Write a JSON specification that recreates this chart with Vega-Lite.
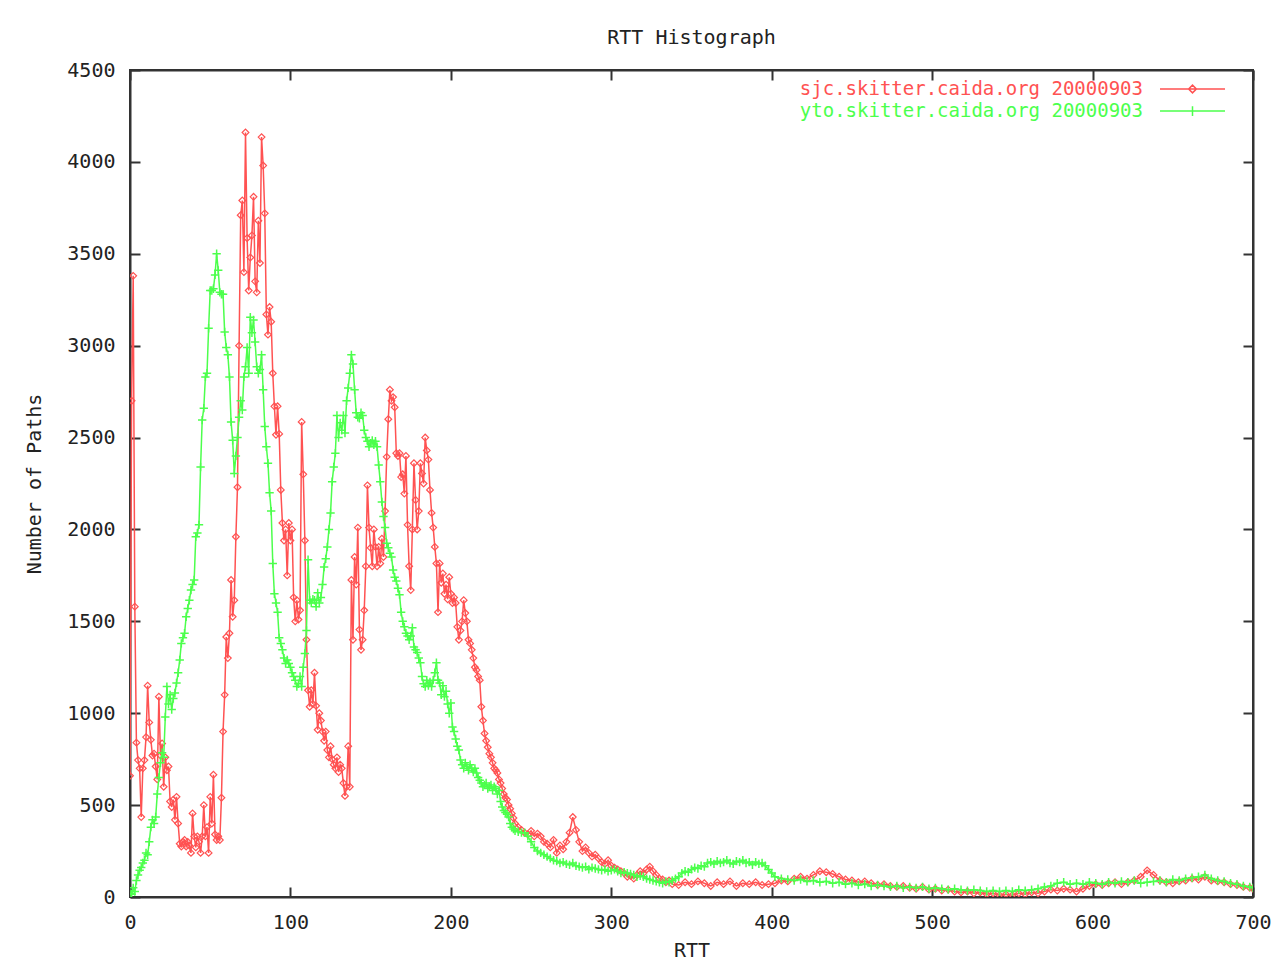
{
  "$schema": "https://vega.github.io/schema/vega-lite/v6.json",
  "width": 1123,
  "height": 827,
  "autosize": {"type": "none"},
  "padding": {"left": 130, "top": 70, "right": 21, "bottom": 64},
  "background": "#ffffff",
  "title": {"text": "RTT Histograph", "font": "DejaVu Sans Mono", "fontSize": 20, "fontWeight": "normal", "color": "#222222", "anchor": "middle", "offset": 8},
  "config": {
    "view": {"stroke": "#333333", "strokeWidth": 2},
    "axis": {
      "labelFont": "DejaVu Sans Mono", "labelFontSize": 20, "labelColor": "#222222",
      "titleFont": "DejaVu Sans Mono", "titleFontSize": 20, "titleColor": "#222222", "titleFontWeight": "normal",
      "domainColor": "#333333", "domainWidth": 2, "tickColor": "#333333", "tickWidth": 2, "tickSize": -10,
      "grid": false, "labelPadding": 25
    }
  },
  "datasets": {
    "sjc": [
      {"rtt":0,"paths":660},{"rtt":1,"paths":2700},{"rtt":2,"paths":3380},{"rtt":3,"paths":1580},{"rtt":4,"paths":840},{"rtt":5,"paths":745},{"rtt":6,"paths":700},{"rtt":7,"paths":435},{"rtt":8,"paths":700},{"rtt":9,"paths":745},
      {"rtt":10,"paths":870},{"rtt":11,"paths":1150},{"rtt":12,"paths":950},{"rtt":13,"paths":855},{"rtt":14,"paths":770},{"rtt":15,"paths":780},{"rtt":16,"paths":710},{"rtt":17,"paths":640},{"rtt":18,"paths":1090},{"rtt":19,"paths":770},
      {"rtt":20,"paths":835},{"rtt":21,"paths":600},{"rtt":22,"paths":760},{"rtt":23,"paths":690},{"rtt":24,"paths":710},{"rtt":25,"paths":520},{"rtt":26,"paths":490},{"rtt":27,"paths":530},{"rtt":28,"paths":420},{"rtt":29,"paths":545},
      {"rtt":30,"paths":400},{"rtt":31,"paths":290},{"rtt":32,"paths":275},{"rtt":33,"paths":300},{"rtt":34,"paths":310},{"rtt":35,"paths":275},{"rtt":36,"paths":300},{"rtt":37,"paths":280},{"rtt":38,"paths":240},{"rtt":39,"paths":455},
      {"rtt":40,"paths":330},{"rtt":41,"paths":270},{"rtt":42,"paths":330},{"rtt":43,"paths":300},{"rtt":44,"paths":240},{"rtt":45,"paths":330},{"rtt":46,"paths":500},{"rtt":47,"paths":330},{"rtt":48,"paths":380},{"rtt":49,"paths":240},
      {"rtt":50,"paths":545},{"rtt":51,"paths":400},{"rtt":52,"paths":665},{"rtt":53,"paths":340},{"rtt":54,"paths":310},{"rtt":55,"paths":330},{"rtt":56,"paths":310},{"rtt":57,"paths":540},{"rtt":58,"paths":900},{"rtt":59,"paths":1100},
      {"rtt":60,"paths":1415},{"rtt":61,"paths":1300},{"rtt":62,"paths":1435},{"rtt":63,"paths":1725},{"rtt":64,"paths":1525},{"rtt":65,"paths":1615},{"rtt":66,"paths":1960},{"rtt":67,"paths":2230},{"rtt":68,"paths":3000},{"rtt":69,"paths":3710},
      {"rtt":70,"paths":3790},{"rtt":71,"paths":3400},{"rtt":72,"paths":4160},{"rtt":73,"paths":3585},{"rtt":74,"paths":3300},{"rtt":75,"paths":3480},{"rtt":76,"paths":3600},{"rtt":77,"paths":3810},{"rtt":78,"paths":3350},{"rtt":79,"paths":3290},
      {"rtt":80,"paths":3680},{"rtt":81,"paths":3450},{"rtt":82,"paths":4135},{"rtt":83,"paths":3980},{"rtt":84,"paths":3720},{"rtt":85,"paths":3170},{"rtt":86,"paths":3060},{"rtt":87,"paths":3210},{"rtt":88,"paths":3130},{"rtt":89,"paths":2850},
      {"rtt":90,"paths":2670},{"rtt":91,"paths":2515},{"rtt":92,"paths":2670},{"rtt":93,"paths":2520},{"rtt":94,"paths":2215},{"rtt":95,"paths":2035},{"rtt":96,"paths":1940},{"rtt":97,"paths":2000},{"rtt":98,"paths":1750},{"rtt":99,"paths":2035},
      {"rtt":100,"paths":1940},{"rtt":101,"paths":2000},{"rtt":102,"paths":1630},{"rtt":103,"paths":1500},{"rtt":104,"paths":1615},{"rtt":105,"paths":1510},{"rtt":106,"paths":1560},{"rtt":107,"paths":2585},{"rtt":108,"paths":2300},{"rtt":109,"paths":1940},
      {"rtt":110,"paths":1400},{"rtt":111,"paths":1125},{"rtt":112,"paths":1035},{"rtt":113,"paths":1125},{"rtt":114,"paths":1050},{"rtt":115,"paths":1220},{"rtt":116,"paths":1040},{"rtt":117,"paths":910},{"rtt":118,"paths":1000},{"rtt":119,"paths":960},
      {"rtt":120,"paths":900},{"rtt":121,"paths":850},{"rtt":122,"paths":900},{"rtt":123,"paths":800},{"rtt":124,"paths":760},{"rtt":125,"paths":820},{"rtt":126,"paths":750},{"rtt":127,"paths":720},{"rtt":128,"paths":700},{"rtt":129,"paths":760},
      {"rtt":130,"paths":680},{"rtt":131,"paths":720},{"rtt":132,"paths":700},{"rtt":133,"paths":620},{"rtt":134,"paths":550},{"rtt":135,"paths":600},{"rtt":136,"paths":820},{"rtt":137,"paths":600},{"rtt":138,"paths":1725},{"rtt":139,"paths":1400},
      {"rtt":140,"paths":1850},{"rtt":141,"paths":1700},{"rtt":142,"paths":2010},{"rtt":143,"paths":1455},{"rtt":144,"paths":1345},{"rtt":145,"paths":1400},{"rtt":146,"paths":1560},{"rtt":147,"paths":1800},{"rtt":148,"paths":2240},{"rtt":149,"paths":2010},
      {"rtt":150,"paths":1900},{"rtt":151,"paths":1800},{"rtt":152,"paths":2000},{"rtt":153,"paths":1905},{"rtt":154,"paths":1800},{"rtt":155,"paths":1905},{"rtt":156,"paths":1815},{"rtt":157,"paths":1950},{"rtt":158,"paths":1850},{"rtt":159,"paths":2100},
      {"rtt":160,"paths":2395},{"rtt":161,"paths":2600},{"rtt":162,"paths":2760},{"rtt":163,"paths":2700},{"rtt":164,"paths":2720},{"rtt":165,"paths":2665},{"rtt":166,"paths":2415},{"rtt":167,"paths":2400},{"rtt":168,"paths":2415},{"rtt":169,"paths":2285},
      {"rtt":170,"paths":2300},{"rtt":171,"paths":2195},{"rtt":172,"paths":2400},{"rtt":173,"paths":2025},{"rtt":174,"paths":1800},{"rtt":175,"paths":1670},{"rtt":176,"paths":2000},{"rtt":177,"paths":2360},{"rtt":178,"paths":2160},{"rtt":179,"paths":2000},
      {"rtt":180,"paths":2100},{"rtt":181,"paths":2360},{"rtt":182,"paths":2305},{"rtt":183,"paths":2250},{"rtt":184,"paths":2500},{"rtt":185,"paths":2430},{"rtt":186,"paths":2380},{"rtt":187,"paths":2215},{"rtt":188,"paths":2090},{"rtt":189,"paths":2010},
      {"rtt":190,"paths":1905},{"rtt":191,"paths":1815},{"rtt":192,"paths":1550},{"rtt":193,"paths":1815},{"rtt":194,"paths":1710},{"rtt":195,"paths":1760},{"rtt":196,"paths":1650},{"rtt":197,"paths":1700},{"rtt":198,"paths":1620},{"rtt":199,"paths":1740},
      {"rtt":200,"paths":1650},{"rtt":201,"paths":1600},{"rtt":202,"paths":1630},{"rtt":203,"paths":1600},{"rtt":204,"paths":1470},{"rtt":205,"paths":1400},{"rtt":206,"paths":1450},{"rtt":207,"paths":1500},{"rtt":208,"paths":1615},{"rtt":209,"paths":1545},
      {"rtt":210,"paths":1500},{"rtt":211,"paths":1400},{"rtt":212,"paths":1380},{"rtt":213,"paths":1345},{"rtt":214,"paths":1300},{"rtt":215,"paths":1250},{"rtt":216,"paths":1235},{"rtt":217,"paths":1200},{"rtt":218,"paths":1180},{"rtt":219,"paths":1035},
      {"rtt":220,"paths":960},{"rtt":221,"paths":890},{"rtt":222,"paths":850},{"rtt":223,"paths":815},{"rtt":224,"paths":780},{"rtt":225,"paths":760},{"rtt":226,"paths":730},{"rtt":227,"paths":700},{"rtt":228,"paths":690},{"rtt":229,"paths":675},
      {"rtt":230,"paths":640},{"rtt":231,"paths":620},{"rtt":232,"paths":590},{"rtt":233,"paths":560},{"rtt":234,"paths":540},{"rtt":235,"paths":530},{"rtt":236,"paths":500},{"rtt":237,"paths":480},{"rtt":238,"paths":455},{"rtt":239,"paths":430},
      {"rtt":240,"paths":400},{"rtt":242,"paths":380},{"rtt":244,"paths":365},{"rtt":246,"paths":350},{"rtt":248,"paths":340},{"rtt":250,"paths":360},{"rtt":252,"paths":330},{"rtt":254,"paths":345},{"rtt":256,"paths":330},{"rtt":258,"paths":300},
      {"rtt":260,"paths":290},{"rtt":262,"paths":270},{"rtt":264,"paths":310},{"rtt":266,"paths":240},{"rtt":268,"paths":280},{"rtt":270,"paths":260},{"rtt":272,"paths":300},{"rtt":274,"paths":350},{"rtt":276,"paths":435},{"rtt":278,"paths":365},
      {"rtt":280,"paths":300},{"rtt":282,"paths":250},{"rtt":284,"paths":270},{"rtt":286,"paths":240},{"rtt":288,"paths":220},{"rtt":290,"paths":230},{"rtt":292,"paths":210},{"rtt":294,"paths":190},{"rtt":296,"paths":180},{"rtt":298,"paths":200},
      {"rtt":300,"paths":170},{"rtt":302,"paths":160},{"rtt":304,"paths":150},{"rtt":306,"paths":140},{"rtt":308,"paths":130},{"rtt":310,"paths":110},{"rtt":312,"paths":115},{"rtt":314,"paths":100},{"rtt":316,"paths":120},{"rtt":318,"paths":140},
      {"rtt":320,"paths":130},{"rtt":322,"paths":150},{"rtt":324,"paths":165},{"rtt":326,"paths":140},{"rtt":328,"paths":120},{"rtt":330,"paths":100},{"rtt":332,"paths":95},{"rtt":334,"paths":80},{"rtt":336,"paths":90},{"rtt":338,"paths":70},
      {"rtt":342,"paths":65},{"rtt":346,"paths":80},{"rtt":350,"paths":70},{"rtt":354,"paths":85},{"rtt":358,"paths":75},{"rtt":362,"paths":60},{"rtt":366,"paths":80},{"rtt":370,"paths":70},{"rtt":374,"paths":85},{"rtt":378,"paths":60},
      {"rtt":382,"paths":75},{"rtt":386,"paths":70},{"rtt":390,"paths":80},{"rtt":394,"paths":65},{"rtt":398,"paths":70},{"rtt":402,"paths":75},{"rtt":406,"paths":90},{"rtt":410,"paths":85},{"rtt":414,"paths":100},{"rtt":418,"paths":110},
      {"rtt":422,"paths":100},{"rtt":426,"paths":120},{"rtt":430,"paths":140},{"rtt":434,"paths":135},{"rtt":438,"paths":125},{"rtt":442,"paths":110},{"rtt":446,"paths":95},{"rtt":450,"paths":90},{"rtt":454,"paths":80},{"rtt":458,"paths":85},
      {"rtt":462,"paths":75},{"rtt":466,"paths":65},{"rtt":470,"paths":70},{"rtt":474,"paths":60},{"rtt":478,"paths":55},{"rtt":482,"paths":60},{"rtt":486,"paths":50},{"rtt":490,"paths":45},{"rtt":494,"paths":55},{"rtt":498,"paths":40},
      {"rtt":502,"paths":45},{"rtt":506,"paths":35},{"rtt":510,"paths":40},{"rtt":514,"paths":30},{"rtt":518,"paths":25},{"rtt":522,"paths":30},{"rtt":526,"paths":20},{"rtt":530,"paths":25},{"rtt":534,"paths":15},{"rtt":538,"paths":20},
      {"rtt":542,"paths":10},{"rtt":546,"paths":15},{"rtt":550,"paths":10},{"rtt":554,"paths":20},{"rtt":558,"paths":15},{"rtt":562,"paths":25},{"rtt":566,"paths":20},{"rtt":570,"paths":30},{"rtt":574,"paths":40},{"rtt":578,"paths":35},
      {"rtt":582,"paths":45},{"rtt":586,"paths":40},{"rtt":590,"paths":30},{"rtt":594,"paths":45},{"rtt":598,"paths":60},{"rtt":602,"paths":70},{"rtt":606,"paths":65},{"rtt":610,"paths":75},{"rtt":614,"paths":80},{"rtt":618,"paths":70},
      {"rtt":622,"paths":80},{"rtt":626,"paths":90},{"rtt":630,"paths":110},{"rtt":634,"paths":145},{"rtt":638,"paths":120},{"rtt":642,"paths":90},{"rtt":646,"paths":80},{"rtt":650,"paths":75},{"rtt":654,"paths":85},{"rtt":658,"paths":90},
      {"rtt":662,"paths":100},{"rtt":666,"paths":95},{"rtt":670,"paths":110},{"rtt":674,"paths":90},{"rtt":678,"paths":85},{"rtt":682,"paths":80},{"rtt":686,"paths":70},{"rtt":690,"paths":65},{"rtt":694,"paths":55},{"rtt":698,"paths":50},{"rtt":700,"paths":45}
    ],
    "yto": [
      {"rtt":0,"paths":20},{"rtt":1,"paths":15},{"rtt":2,"paths":50},{"rtt":3,"paths":30},{"rtt":4,"paths":90},{"rtt":5,"paths":120},{"rtt":6,"paths":145},{"rtt":7,"paths":160},{"rtt":8,"paths":185},{"rtt":9,"paths":200},
      {"rtt":10,"paths":240},{"rtt":11,"paths":230},{"rtt":12,"paths":300},{"rtt":13,"paths":380},{"rtt":14,"paths":420},{"rtt":15,"paths":400},{"rtt":16,"paths":435},{"rtt":17,"paths":560},{"rtt":18,"paths":650},{"rtt":19,"paths":730},
      {"rtt":20,"paths":785},{"rtt":21,"paths":760},{"rtt":22,"paths":980},{"rtt":23,"paths":1145},{"rtt":24,"paths":1050},{"rtt":25,"paths":1100},{"rtt":26,"paths":1020},{"rtt":27,"paths":1080},{"rtt":28,"paths":1110},{"rtt":29,"paths":1165},
      {"rtt":30,"paths":1220},{"rtt":31,"paths":1290},{"rtt":32,"paths":1380},{"rtt":33,"paths":1410},{"rtt":34,"paths":1435},{"rtt":35,"paths":1525},{"rtt":36,"paths":1570},{"rtt":37,"paths":1615},{"rtt":38,"paths":1670},{"rtt":39,"paths":1700},
      {"rtt":40,"paths":1725},{"rtt":41,"paths":1960},{"rtt":42,"paths":1980},{"rtt":43,"paths":2025},{"rtt":44,"paths":2340},{"rtt":45,"paths":2595},{"rtt":46,"paths":2660},{"rtt":47,"paths":2830},{"rtt":48,"paths":2850},{"rtt":49,"paths":3095},
      {"rtt":50,"paths":3300},{"rtt":51,"paths":3300},{"rtt":52,"paths":3310},{"rtt":53,"paths":3385},{"rtt":54,"paths":3500},{"rtt":55,"paths":3410},{"rtt":56,"paths":3290},{"rtt":57,"paths":3280},{"rtt":58,"paths":3280},{"rtt":59,"paths":3075},
      {"rtt":60,"paths":2990},{"rtt":61,"paths":2950},{"rtt":62,"paths":2830},{"rtt":63,"paths":2585},{"rtt":64,"paths":2485},{"rtt":65,"paths":2305},{"rtt":66,"paths":2400},{"rtt":67,"paths":2500},{"rtt":68,"paths":2610},{"rtt":69,"paths":2700},
      {"rtt":70,"paths":2650},{"rtt":71,"paths":2830},{"rtt":72,"paths":2885},{"rtt":73,"paths":2990},{"rtt":74,"paths":2850},{"rtt":75,"paths":3155},{"rtt":76,"paths":3070},{"rtt":77,"paths":3140},{"rtt":78,"paths":3020},{"rtt":79,"paths":2885},
      {"rtt":80,"paths":2850},{"rtt":81,"paths":2870},{"rtt":82,"paths":2950},{"rtt":83,"paths":2760},{"rtt":84,"paths":2560},{"rtt":85,"paths":2450},{"rtt":86,"paths":2360},{"rtt":87,"paths":2200},{"rtt":88,"paths":2100},{"rtt":89,"paths":1815},
      {"rtt":90,"paths":1650},{"rtt":91,"paths":1600},{"rtt":92,"paths":1550},{"rtt":93,"paths":1410},{"rtt":94,"paths":1380},{"rtt":95,"paths":1345},{"rtt":96,"paths":1300},{"rtt":97,"paths":1270},{"rtt":98,"paths":1290},{"rtt":99,"paths":1270},
      {"rtt":100,"paths":1250},{"rtt":101,"paths":1220},{"rtt":102,"paths":1200},{"rtt":103,"paths":1180},{"rtt":104,"paths":1145},{"rtt":105,"paths":1160},{"rtt":106,"paths":1200},{"rtt":107,"paths":1145},{"rtt":108,"paths":1250},{"rtt":109,"paths":1325},
      {"rtt":110,"paths":1450},{"rtt":111,"paths":1835},{"rtt":112,"paths":1615},{"rtt":113,"paths":1600},{"rtt":114,"paths":1620},{"rtt":115,"paths":1615},{"rtt":116,"paths":1580},{"rtt":117,"paths":1655},{"rtt":118,"paths":1600},{"rtt":119,"paths":1630},
      {"rtt":120,"paths":1700},{"rtt":121,"paths":1795},{"rtt":122,"paths":1840},{"rtt":123,"paths":1905},{"rtt":124,"paths":2000},{"rtt":125,"paths":2090},{"rtt":126,"paths":2260},{"rtt":127,"paths":2340},{"rtt":128,"paths":2415},{"rtt":129,"paths":2620},
      {"rtt":130,"paths":2500},{"rtt":131,"paths":2580},{"rtt":132,"paths":2540},{"rtt":133,"paths":2620},{"rtt":134,"paths":2525},{"rtt":135,"paths":2700},{"rtt":136,"paths":2770},{"rtt":137,"paths":2850},{"rtt":138,"paths":2950},{"rtt":139,"paths":2900},
      {"rtt":140,"paths":2760},{"rtt":141,"paths":2635},{"rtt":142,"paths":2610},{"rtt":143,"paths":2605},{"rtt":144,"paths":2635},{"rtt":145,"paths":2620},{"rtt":146,"paths":2540},{"rtt":147,"paths":2500},{"rtt":148,"paths":2480},{"rtt":149,"paths":2450},
      {"rtt":150,"paths":2470},{"rtt":151,"paths":2485},{"rtt":152,"paths":2460},{"rtt":153,"paths":2480},{"rtt":154,"paths":2450},{"rtt":155,"paths":2350},{"rtt":156,"paths":2260},{"rtt":157,"paths":2150},{"rtt":158,"paths":2070},{"rtt":159,"paths":2010},
      {"rtt":160,"paths":1925},{"rtt":161,"paths":1900},{"rtt":162,"paths":1870},{"rtt":163,"paths":1850},{"rtt":164,"paths":1780},{"rtt":165,"paths":1740},{"rtt":166,"paths":1720},{"rtt":167,"paths":1680},{"rtt":168,"paths":1645},{"rtt":169,"paths":1550},
      {"rtt":170,"paths":1500},{"rtt":171,"paths":1470},{"rtt":172,"paths":1435},{"rtt":173,"paths":1420},{"rtt":174,"paths":1400},{"rtt":175,"paths":1420},{"rtt":176,"paths":1465},{"rtt":177,"paths":1360},{"rtt":178,"paths":1345},{"rtt":179,"paths":1330},
      {"rtt":180,"paths":1300},{"rtt":181,"paths":1275},{"rtt":182,"paths":1200},{"rtt":183,"paths":1160},{"rtt":184,"paths":1145},{"rtt":185,"paths":1180},{"rtt":186,"paths":1150},{"rtt":187,"paths":1170},{"rtt":188,"paths":1145},{"rtt":189,"paths":1180},
      {"rtt":190,"paths":1220},{"rtt":191,"paths":1275},{"rtt":192,"paths":1180},{"rtt":193,"paths":1165},{"rtt":194,"paths":1100},{"rtt":195,"paths":1150},{"rtt":196,"paths":1090},{"rtt":197,"paths":1120},{"rtt":198,"paths":1050},{"rtt":199,"paths":1000},
      {"rtt":200,"paths":1055},{"rtt":201,"paths":925},{"rtt":202,"paths":900},{"rtt":203,"paths":860},{"rtt":204,"paths":820},{"rtt":205,"paths":800},{"rtt":206,"paths":745},{"rtt":207,"paths":720},{"rtt":208,"paths":700},{"rtt":209,"paths":730},
      {"rtt":210,"paths":710},{"rtt":211,"paths":690},{"rtt":212,"paths":720},{"rtt":213,"paths":700},{"rtt":214,"paths":680},{"rtt":215,"paths":700},{"rtt":216,"paths":675},{"rtt":217,"paths":650},{"rtt":218,"paths":635},{"rtt":219,"paths":620},
      {"rtt":220,"paths":600},{"rtt":221,"paths":610},{"rtt":222,"paths":620},{"rtt":223,"paths":590},{"rtt":224,"paths":600},{"rtt":225,"paths":610},{"rtt":226,"paths":580},{"rtt":227,"paths":600},{"rtt":228,"paths":590},{"rtt":229,"paths":560},
      {"rtt":230,"paths":580},{"rtt":231,"paths":520},{"rtt":232,"paths":490},{"rtt":233,"paths":470},{"rtt":234,"paths":460},{"rtt":235,"paths":450},{"rtt":236,"paths":435},{"rtt":237,"paths":400},{"rtt":238,"paths":380},{"rtt":239,"paths":370},
      {"rtt":240,"paths":360},{"rtt":242,"paths":355},{"rtt":244,"paths":350},{"rtt":246,"paths":350},{"rtt":248,"paths":330},{"rtt":250,"paths":300},{"rtt":252,"paths":270},{"rtt":254,"paths":250},{"rtt":256,"paths":240},{"rtt":258,"paths":230},
      {"rtt":260,"paths":220},{"rtt":262,"paths":210},{"rtt":264,"paths":200},{"rtt":266,"paths":195},{"rtt":268,"paths":185},{"rtt":270,"paths":190},{"rtt":272,"paths":180},{"rtt":274,"paths":175},{"rtt":276,"paths":185},{"rtt":278,"paths":170},
      {"rtt":280,"paths":165},{"rtt":282,"paths":160},{"rtt":284,"paths":165},{"rtt":286,"paths":150},{"rtt":288,"paths":160},{"rtt":290,"paths":155},{"rtt":292,"paths":150},{"rtt":294,"paths":145},{"rtt":296,"paths":150},{"rtt":298,"paths":140},
      {"rtt":300,"paths":145},{"rtt":302,"paths":150},{"rtt":304,"paths":140},{"rtt":306,"paths":130},{"rtt":308,"paths":135},{"rtt":310,"paths":130},{"rtt":312,"paths":125},{"rtt":314,"paths":120},{"rtt":316,"paths":110},{"rtt":318,"paths":115},
      {"rtt":320,"paths":110},{"rtt":322,"paths":100},{"rtt":324,"paths":95},{"rtt":326,"paths":90},{"rtt":328,"paths":85},{"rtt":330,"paths":80},{"rtt":332,"paths":75},{"rtt":334,"paths":85},{"rtt":336,"paths":80},{"rtt":338,"paths":90},
      {"rtt":340,"paths":100},{"rtt":342,"paths":110},{"rtt":344,"paths":130},{"rtt":346,"paths":140},{"rtt":348,"paths":135},{"rtt":350,"paths":150},{"rtt":352,"paths":160},{"rtt":354,"paths":155},{"rtt":356,"paths":170},{"rtt":358,"paths":165},
      {"rtt":360,"paths":185},{"rtt":362,"paths":190},{"rtt":364,"paths":180},{"rtt":366,"paths":195},{"rtt":368,"paths":185},{"rtt":370,"paths":190},{"rtt":372,"paths":200},{"rtt":374,"paths":185},{"rtt":376,"paths":180},{"rtt":378,"paths":195},
      {"rtt":380,"paths":190},{"rtt":382,"paths":200},{"rtt":384,"paths":185},{"rtt":386,"paths":190},{"rtt":388,"paths":175},{"rtt":390,"paths":190},{"rtt":392,"paths":180},{"rtt":394,"paths":185},{"rtt":396,"paths":170},{"rtt":398,"paths":150},
      {"rtt":400,"paths":130},{"rtt":402,"paths":110},{"rtt":406,"paths":100},{"rtt":410,"paths":95},{"rtt":414,"paths":90},{"rtt":418,"paths":95},{"rtt":422,"paths":85},{"rtt":426,"paths":90},{"rtt":430,"paths":80},{"rtt":434,"paths":85},
      {"rtt":438,"paths":75},{"rtt":442,"paths":80},{"rtt":446,"paths":70},{"rtt":450,"paths":75},{"rtt":454,"paths":65},{"rtt":458,"paths":70},{"rtt":462,"paths":60},{"rtt":466,"paths":65},{"rtt":470,"paths":60},{"rtt":474,"paths":55},
      {"rtt":478,"paths":60},{"rtt":482,"paths":50},{"rtt":486,"paths":55},{"rtt":490,"paths":50},{"rtt":494,"paths":55},{"rtt":498,"paths":45},{"rtt":502,"paths":50},{"rtt":506,"paths":45},{"rtt":510,"paths":40},{"rtt":514,"paths":45},
      {"rtt":518,"paths":40},{"rtt":522,"paths":35},{"rtt":526,"paths":40},{"rtt":530,"paths":35},{"rtt":534,"paths":30},{"rtt":538,"paths":35},{"rtt":542,"paths":30},{"rtt":546,"paths":35},{"rtt":550,"paths":30},{"rtt":554,"paths":40},
      {"rtt":558,"paths":35},{"rtt":562,"paths":40},{"rtt":566,"paths":45},{"rtt":570,"paths":55},{"rtt":574,"paths":60},{"rtt":578,"paths":75},{"rtt":582,"paths":80},{"rtt":586,"paths":70},{"rtt":590,"paths":75},{"rtt":594,"paths":70},
      {"rtt":598,"paths":80},{"rtt":602,"paths":75},{"rtt":606,"paths":70},{"rtt":610,"paths":80},{"rtt":614,"paths":75},{"rtt":618,"paths":85},{"rtt":622,"paths":80},{"rtt":626,"paths":90},{"rtt":630,"paths":75},{"rtt":634,"paths":80},
      {"rtt":638,"paths":85},{"rtt":642,"paths":90},{"rtt":646,"paths":80},{"rtt":650,"paths":95},{"rtt":654,"paths":90},{"rtt":658,"paths":100},{"rtt":662,"paths":105},{"rtt":666,"paths":110},{"rtt":670,"paths":120},{"rtt":674,"paths":100},
      {"rtt":678,"paths":90},{"rtt":682,"paths":85},{"rtt":686,"paths":75},{"rtt":690,"paths":70},{"rtt":694,"paths":60},{"rtt":698,"paths":55},{"rtt":700,"paths":50}
    ]
  },
  "resolve": {"axis": {"x": "independent", "y": "independent"}},
  "layer": [
    {
      "data": {"name": "sjc"},
      "mark": {"type": "line", "strokeWidth": 1.5, "clip": true},
      "encoding": {
        "x": {"field": "rtt", "type": "quantitative", "scale": {"domain": [0, 700], "nice": false, "zero": false},
              "axis": {"orient": "bottom", "title": "RTT", "values": [0,100,200,300,400,500,600,700], "format": "d", "titlePadding": 8, "labelFlush": false}},
        "y": {"field": "paths", "type": "quantitative", "scale": {"domain": [0, 4500], "nice": false},
              "axis": {"orient": "left", "title": "Number of Paths", "values": [0,500,1000,1500,2000,2500,3000,3500,4000,4500], "format": "d", "titlePadding": 22, "labelFlush": false}},
        "color": {"datum": "sjc.skitter.caida.org 20000903", "type": "nominal",
          "scale": {"domain": ["sjc.skitter.caida.org 20000903", "yto.skitter.caida.org 20000903"], "range": ["#ff5252", "#4cff4c"]},
          "legend": {
            "orient": "none", "legendX": 1029, "legendY": -14, "title": null, "padding": 0,
            "symbolSize": 196, "symbolStrokeWidth": 1.5, "rowPadding": -22, "labelLimit": 0,
            "labelFont": "DejaVu Sans Mono", "labelFontSize": 19,
            "encode": {
              "symbols": {"update": {
                "shape": {"signal": "datum.value === 'sjc.skitter.caida.org 20000903' ? 'M-1,0H1M-0.12,0L0,-0.12L0.12,0L0,0.12Z' : 'M-1,0H1M0,-0.15V0.15'"},
                "size": {"value": 4225},
                "y": {"signal": "33 - 21 * datum.index"},
                "fill": {"value": "transparent"},
                "stroke": {"signal": "scale('color', datum.value)"},
                "strokeWidth": {"value": 1.5}
              }},
              "labels": {"update": {
                "x": {"value": -16},
                "y": {"signal": "33 - 21 * datum.index"},
                "align": {"value": "right"},
                "baseline": {"value": "middle"},
                "fill": {"signal": "scale('color', datum.value)"}
              }}
            }
          }}
      }
    },
    {
      "data": {"name": "sjc"},
      "mark": {"type": "point", "shape": "diamond", "filled": false, "size": 45, "strokeWidth": 1.2, "opacity": 1, "clip": true},
      "encoding": {
        "x": {"field": "rtt", "type": "quantitative", "axis": {"orient": "top", "labels": false, "title": null, "values": [0,100,200,300,400,500,600,700]}},
        "y": {"field": "paths", "type": "quantitative", "axis": {"orient": "right", "labels": false, "title": null, "values": [0,500,1000,1500,2000,2500,3000,3500,4000,4500]}},
        "color": {"datum": "sjc.skitter.caida.org 20000903", "type": "nominal"}
      }
    },
    {
      "data": {"name": "yto"},
      "mark": {"type": "line", "strokeWidth": 1.5, "clip": true},
      "encoding": {
        "x": {"field": "rtt", "type": "quantitative", "axis": null},
        "y": {"field": "paths", "type": "quantitative", "axis": null},
        "color": {"datum": "yto.skitter.caida.org 20000903", "type": "nominal"}
      }
    },
    {
      "data": {"name": "yto"},
      "mark": {"type": "point", "shape": "M-1,0H1M0,-1V1", "filled": false, "size": 70, "strokeWidth": 1.5, "opacity": 1, "clip": true},
      "encoding": {
        "x": {"field": "rtt", "type": "quantitative", "axis": null},
        "y": {"field": "paths", "type": "quantitative", "axis": null},
        "color": {"datum": "yto.skitter.caida.org 20000903", "type": "nominal"}
      }
    }
  ]
}
